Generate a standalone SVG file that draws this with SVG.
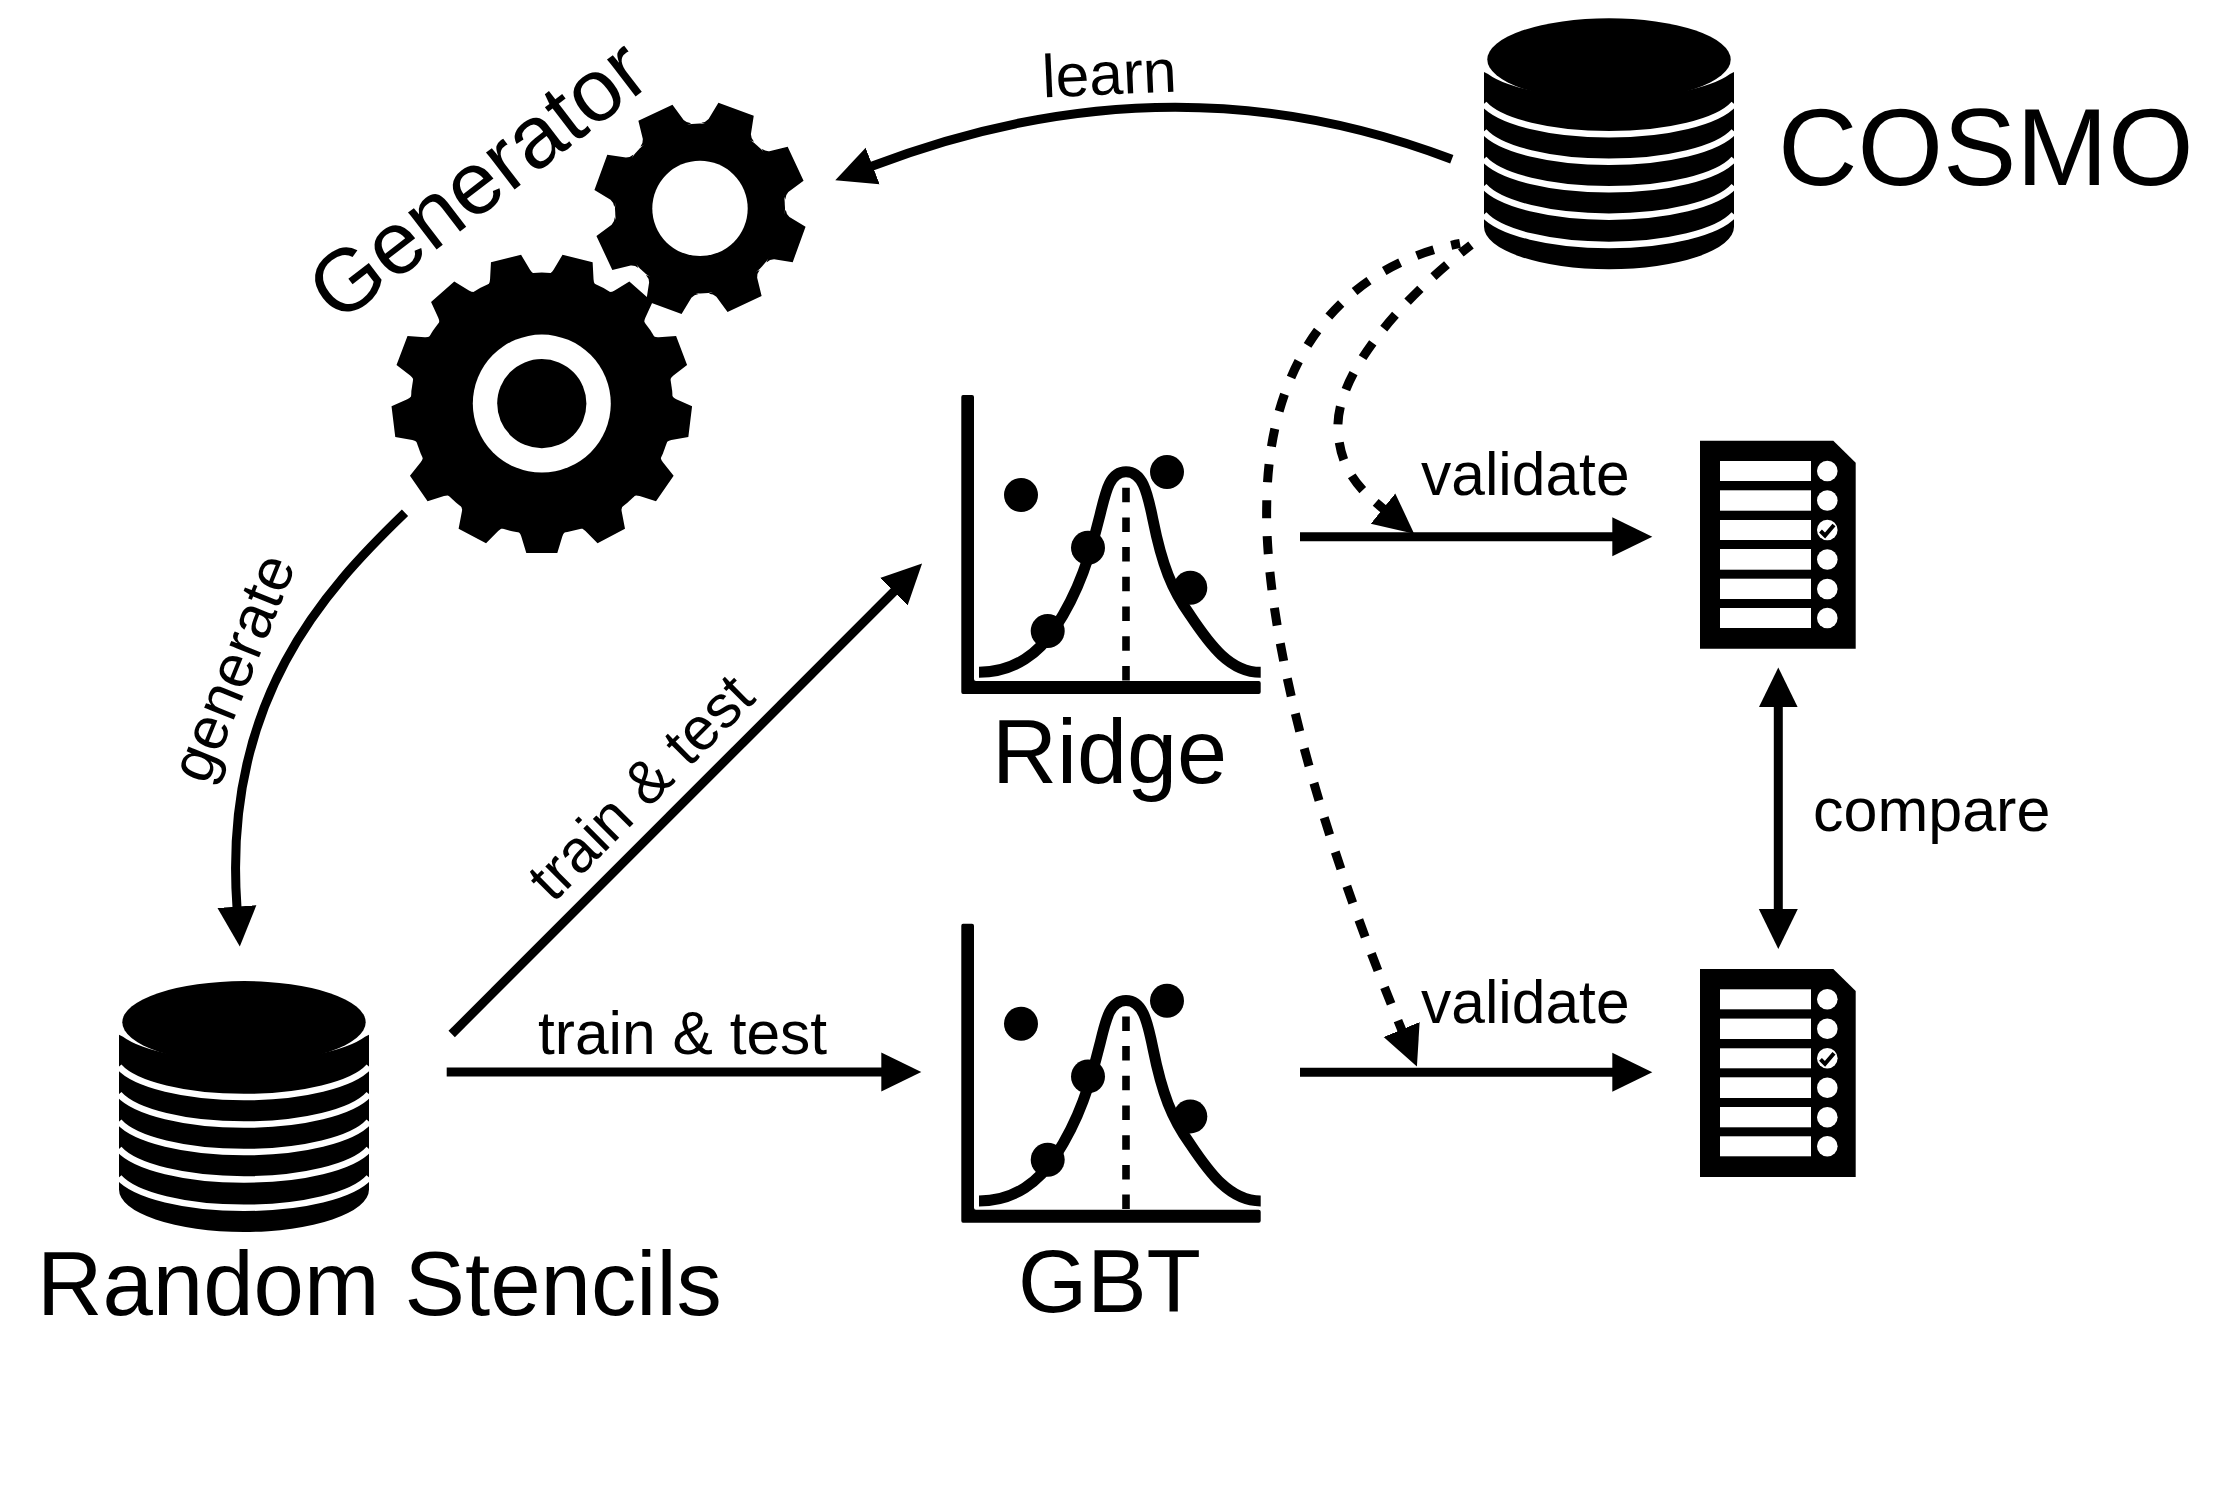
<svg xmlns="http://www.w3.org/2000/svg" xmlns:xlink="http://www.w3.org/1999/xlink" width="2230" height="1512" viewBox="0 0 2230 1512">
<style>
text{font-family:"Liberation Sans",Arial,sans-serif;fill:#000}
.l{font-size:60.500px}
.line{fill:none;stroke:#000;stroke-width:9}
.dash{fill:none;stroke:#000;stroke-width:9;stroke-dasharray:18 18}
.stripe{fill:none;stroke:#fff;stroke-width:6.5}
</style>
<defs>
<marker id="head" markerUnits="userSpaceOnUse" markerWidth="44" markerHeight="44" refX="1" refY="22" orient="auto-start-reverse" viewBox="0 0 44 44"><path d="M0 2.5L40 22L0 41.500Z"/></marker>
<path id="toothB" d="M-26 -127Q-22 -128 -20.500 -133L-15.500 -149.500L15.500 -149.500L20.500 -133Q22 -128 26 -127Z"/>
<path id="toothS" d="M-28 -81Q-24 -83 -22.500 -87L-18.800 -105.500L18.800 -105.500L22.500 -87Q24 -83 28 -81Z"/>
<g id="cyl">
<path d="M1484 72V226.700A125 42.500 0 0 0 1734 226.700V72L1730 74A130 38 0 0 1 1488 74Z"/>
<path class="stripe" d="M1484 103.800A130 42 0 0 0 1734 103.800M1484 131.300A130 42 0 0 0 1734 131.300M1484 158.800A130 42 0 0 0 1734 158.800M1484 186.200A130 42 0 0 0 1734 186.200M1484 214.500A130 42 0 0 0 1734 214.500"/>
<ellipse cx="1609" cy="59.500" rx="121.700" ry="41.200"/>
</g>
<g id="chart">
<path d="M963 395H972Q974 395 974 397V679Q974 681 976 681H1258.700Q1260.700 681 1260.700 683V692Q1260.700 694 1258.700 694H963Q961.300 694 961.300 692V397Q961.300 395 963 395Z"/>
<path d="M979 672.300C1015 672.300 1040 652 1055 628C1080 590 1090 555 1100 515C1106 490 1110 471.700 1126 471.700C1142 471.700 1147 490 1153 520C1162 565 1172 590 1190 615C1210 645 1230 672.300 1260.700 672.300" fill="none" stroke="#000" stroke-width="11"/>
<path d="M1126 487.700V681" fill="none" stroke="#000" stroke-width="7.600" stroke-dasharray="14.500 15.200"/>
<circle cx="1021" cy="495" r="17"/><circle cx="1167" cy="472" r="17"/><circle cx="1088" cy="547.700" r="17"/><circle cx="1190.300" cy="587.700" r="17"/><circle cx="1047.700" cy="631" r="17"/>
</g>
<g id="doc">
<path d="M1700 440.700H1833.300L1855.700 462.700V648.700H1700Z"/>
<g fill="#fff">
<rect x="1720" y="461" width="91" height="20"/><rect x="1720" y="490.300" width="91" height="20.400"/><rect x="1720" y="520" width="91" height="20"/><rect x="1720" y="549" width="91" height="20.700"/><rect x="1720" y="578.700" width="91" height="20.300"/><rect x="1720" y="608" width="91" height="20"/>
<circle cx="1827.300" cy="471" r="10.300"/><circle cx="1827.300" cy="500.500" r="10.300"/><circle cx="1827.300" cy="530" r="10.300"/><circle cx="1827.300" cy="559.500" r="10.300"/><circle cx="1827.300" cy="589" r="10.300"/><circle cx="1827.300" cy="618" r="10.300"/>
</g>
<path d="M1820.500 531L1825 535.500L1834 525" fill="none" stroke="#000" stroke-width="4"/>
</g>
</defs>

<g id="connectors">
<path class="line" marker-end="url(#head)" d="M1451.800 159.300Q1170.300 51.800 871.700 166.300"/>
<path class="line" marker-end="url(#head)" d="M405 512.800C325 590 222 700 237 907.600"/>
<path class="line" marker-end="url(#head)" d="M451.700 1034L894.500 591"/>
<path class="line" marker-end="url(#head)" d="M446.700 1072H882.300"/>
<path class="line" marker-end="url(#head)" d="M1300 536.700H1613.300"/>
<path class="line" marker-end="url(#head)" d="M1300 1072.300H1613.300"/>
<path class="line" marker-start="url(#head)" marker-end="url(#head)" d="M1778.300 706.400V910"/>
<path class="dash" stroke-dashoffset="5" marker-end="url(#head)" d="M1471 245C1400 300 1335 375 1338 430C1340 470 1360 490 1383.800 509.200"/>
<path class="dash" stroke-dashoffset="9" marker-end="url(#head)" d="M1460 243.500C1360 262 1268 340 1266.700 505.700C1265 590 1290 760 1402 1030.500"/>
</g>

<g id="generator">
<g id="gear-small" transform="translate(700 208.400)">
<circle r="85"/>
<use xlink:href="#toothS" transform="rotate(20)"/><use xlink:href="#toothS" transform="rotate(65)"/><use xlink:href="#toothS" transform="rotate(110)"/><use xlink:href="#toothS" transform="rotate(155)"/><use xlink:href="#toothS" transform="rotate(200)"/><use xlink:href="#toothS" transform="rotate(245)"/><use xlink:href="#toothS" transform="rotate(290)"/><use xlink:href="#toothS" transform="rotate(335)"/>
<circle r="47.700" fill="#fff"/>
</g>
<g id="gear-big" transform="translate(541.800 403.600)">
<circle r="131"/>
<use xlink:href="#toothB" transform="rotate(13.850)"/><use xlink:href="#toothB" transform="rotate(41.540)"/><use xlink:href="#toothB" transform="rotate(69.230)"/><use xlink:href="#toothB" transform="rotate(96.920)"/><use xlink:href="#toothB" transform="rotate(124.620)"/><use xlink:href="#toothB" transform="rotate(152.310)"/><use xlink:href="#toothB" transform="rotate(180)"/><use xlink:href="#toothB" transform="rotate(207.690)"/><use xlink:href="#toothB" transform="rotate(235.380)"/><use xlink:href="#toothB" transform="rotate(263.080)"/><use xlink:href="#toothB" transform="rotate(290.770)"/><use xlink:href="#toothB" transform="rotate(318.460)"/><use xlink:href="#toothB" transform="rotate(346.150)"/>
<circle r="69" fill="#fff"/><circle r="44.600"/>
</g>
<text transform="translate(338 325) rotate(-37.500)" font-size="88.500">Generator</text>
</g>

<g id="cosmo"><use xlink:href="#cyl"/><text x="1778" y="185" font-size="110">COSMO</text></g>
<g id="stencils"><use xlink:href="#cyl" x="-1365" y="962.800"/><text x="37" y="1315" font-size="90.600">Random Stencils</text></g>
<g id="ridge"><use xlink:href="#chart"/><text x="992" y="783" font-size="90">Ridge</text></g>
<g id="gbt"><use xlink:href="#chart" y="528.700"/><text x="1018" y="1311.700" font-size="89">GBT</text></g>
<g id="doc-ridge"><use xlink:href="#doc"/></g>
<g id="doc-gbt"><use xlink:href="#doc" y="528.300"/></g>

<g id="labels">
<text class="l" transform="translate(1043 97.500) rotate(-2.600)">learn</text>
<text class="l" transform="translate(207 786) rotate(-68)">generate</text>
<text class="l" transform="translate(553 904) rotate(-45)">train &amp; test</text>
<text class="l" x="538" y="1053.600">train &amp; test</text>
<text class="l" x="1421" y="495">validate</text>
<text class="l" x="1421" y="1022.700">validate</text>
<text x="1813" y="831" font-size="61">compare</text>
</g>
</svg>
